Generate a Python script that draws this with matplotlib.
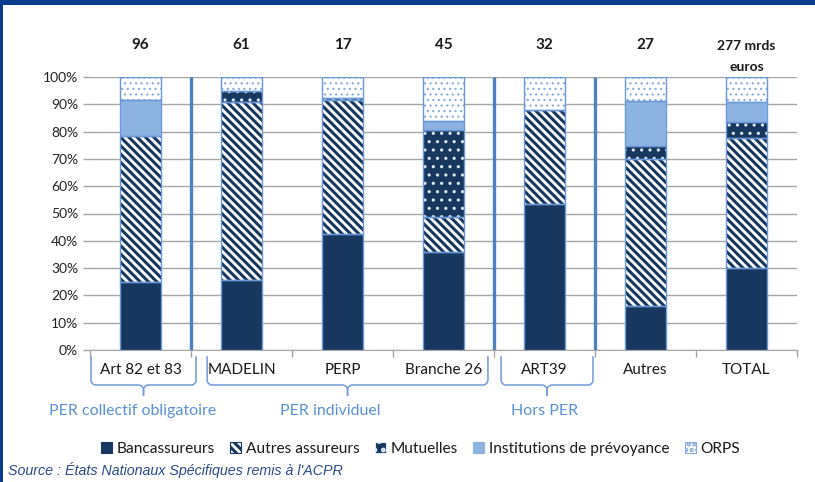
import numpy as np
import matplotlib
matplotlib.use("Agg")
import matplotlib.pyplot as plt
from matplotlib.patches import Patch, Rectangle
from matplotlib.lines import Line2D
import matplotlib.transforms as mtransforms

# Données (parts en %)
categories = ["Art 82 et 83", "MADELIN", "PERP", "Branche 26", "ART39", "Autres", "TOTAL"]
encours = ["96", "61", "17", "45", "32", "27", "277 mrds\neuros"]
bancassureurs = [25.0, 25.5, 42.6, 35.8, 53.3, 16.0, 30.2]
autres_assureurs = [53.4, 65.5, 49.0, 13.0, 34.6, 53.8, 47.6]
mutuelles = [0.0, 4.0, 0.7, 31.7, 0.0, 4.9, 5.8]
institutions = [13.3, 0.0, 0.0, 3.2, 0.0, 16.4, 7.1]
orps = [8.3, 5.0, 7.7, 16.3, 12.1, 8.9, 9.3]
groupes = ["PER collectif obligatoire", "PER individuel", "Hors PER"]
groupes_gauche = [-0.49, 0.66, 3.57]
groupes_droite = [0.55, 3.44, 4.48]
groupes_texte_x = [-0.08, 1.88, 4.0]
separateurs = [0.5, 3.5, 4.5]

NAVY = "#17375e"
LIGHT = "#8db3e2"
EDGE = "#6a9ad8"
SEP = "#4f81bd"
GROUP_COL = "#5a90d8"
BRACE = "#6f9bd8"

plt.rcParams["font.family"] = ["Lato", "DejaVu Sans"]
plt.rcParams["hatch.linewidth"] = 2.2

fig = plt.figure(figsize=(8.15, 4.82), dpi=100)
ax = fig.add_axes([90 / 815, 1 - 350 / 482, 707 / 815, 273 / 482])

x = np.arange(len(categories))
w = 0.4

series = [
    ("Bancassureurs", bancassureurs, dict(facecolor=NAVY, edgecolor=NAVY, hatch=None, hlw=2.2)),
    ("Autres assureurs", autres_assureurs, dict(facecolor="white", edgecolor=NAVY, hatch="\\\\\\\\", hlw=2.2)),
    ("Mutuelles", mutuelles, dict(facecolor=NAVY, edgecolor="#dfe8f5", hatch="..", hlw=1.1)),
    ("Institutions de prévoyance", institutions, dict(facecolor=LIGHT, edgecolor=LIGHT, hatch=None, hlw=2.2)),
    ("ORPS", orps, dict(facecolor="white", edgecolor="#86a9dc", hatch="...", hlw=0.8)),
]


def hatch_lw(artist, lw):
    if hasattr(artist, "set_hatch_linewidth"):
        artist.set_hatch_linewidth(lw)


bottom = np.zeros(len(categories))
for name, vals, st in series:
    vals = np.array(vals)
    for i in range(len(categories)):
        if vals[i] <= 0:
            continue
        bars = ax.bar(x[i], vals[i], w, bottom=bottom[i], facecolor=st["facecolor"],
                      edgecolor=st["edgecolor"], hatch=st["hatch"], linewidth=0, zorder=3)
        for b in bars:
            hatch_lw(b, st["hlw"])
        ax.bar(x[i], vals[i], w, bottom=bottom[i], fill=False, edgecolor=EDGE,
               linewidth=1.0, zorder=4)
    bottom += vals

for s in separateurs:
    ax.plot([s, s], [0, 100], color=SEP, lw=2.4, zorder=5, solid_capstyle="butt")

ax.set_xlim(-0.5, len(categories) - 0.5)
ax.set_ylim(0, 100)
ax.set_yticks(np.arange(0, 101, 10))
ax.set_yticklabels([f"{v}%" for v in range(0, 101, 10)], fontsize=10, color="#222222")
ax.yaxis.grid(True, color="#a6a6a6", lw=1.0, zorder=0)
ax.set_xticks(np.arange(-0.5, len(categories), 1))
ax.set_xticklabels([])
ax.tick_params(axis="both", length=5, color="#a6a6a6", width=1)
for sp in ["top", "right", "left"]:
    ax.spines[sp].set_visible(False)
ax.spines["bottom"].set_color("#a6a6a6")

trans = mtransforms.blended_transform_factory(ax.transData, ax.transAxes)
px = 1 / 273  # un pixel en fraction d'axe (vertical)

for i, lab in enumerate(categories):
    ax.text(x[i], -20 * px, lab, transform=trans, ha="center", va="center",
            fontsize=11, color="#1a1a1a")

for i, lab in enumerate(encours):
    if "\n" in lab:
        l1, l2 = lab.split("\n")
        ax.text(x[i], 1 + 31 * px, l1, transform=trans, ha="center", va="center",
                fontsize=10, fontweight="bold", color="#1a1a1a")
        ax.text(x[i], 1 + 10 * px, l2, transform=trans, ha="center", va="center",
                fontsize=10, fontweight="bold", color="#1a1a1a")
    else:
        ax.text(x[i], 1 + 32 * px, lab, transform=trans, ha="center", va="center",
                fontsize=11, fontweight="bold", color="#1a1a1a")


# accolades sous les groupes, tracées en pixels (origine en bas à gauche)
def quart(cx, cy, r, a0, a1):
    t = np.linspace(np.radians(a0), np.radians(a1), 8)
    return cx + r * np.cos(t), cy + r * np.sin(t)


def accolade(d0, d1, ytop, ybot, ytip, r=5):
    x0 = 90 + 101 * (d0 + 0.5)
    x1 = 90 + 101 * (d1 + 0.5)
    xm = (x0 + x1) / 2
    yt, yb, yp = 482 - ytop, 482 - ybot, 482 - ytip
    for xa, sgn in [(x0, 1), (x1, -1)]:
        ax1, ay1 = quart(xa + sgn * r, yb + r, r, 180 if sgn > 0 else 0, 270 if sgn > 0 else -90)
        ax2, ay2 = quart(xm - sgn * r, yb - r, r, 90, 0 if sgn > 0 else 180)
        xs = np.concatenate([[xa], ax1, ax2, [xm]])
        ys = np.concatenate([[yt], ay1, ay2, [yp]])
        fig.add_artist(Line2D(xs, ys, transform=mtransforms.IdentityTransform(),
                              color=BRACE, lw=1.1, zorder=6))


for g, d0, d1, xt in zip(groupes, groupes_gauche, groupes_droite, groupes_texte_x):
    accolade(d0, d1, 357, 385, 395)
    ax.text(xt, -61 * px, g, transform=trans, ha="center", va="center",
            fontsize=11.5, color=GROUP_COL)

handles = []
for name, _, st in series:
    h = Patch(facecolor=st["facecolor"], edgecolor=st["edgecolor"], hatch=st["hatch"],
              linewidth=0.8, label=name)
    hatch_lw(h, min(st["hlw"], 1.2))
    handles.append(h)
leg = fig.legend(handles=handles, loc="center", bbox_to_anchor=(0.516, 1 - 449 / 482),
                 ncol=5, frameon=False, fontsize=11.2, handlelength=0.7, handleheight=0.7,
                 handletextpad=0.3, columnspacing=1.0)
for t in leg.get_texts():
    t.set_color("#1a1a1a")

fig.text(8 / 815, 1 - 470 / 482, "Source : États Nationaux Spécifiques remis à l'ACPR",
         fontsize=10.3, style="italic", family=["Liberation Sans", "DejaVu Sans"],
         color="#2a4a8c", va="center")

# cadre bleu en haut et à gauche
fig.patches.append(Rectangle((0, 1 - 5 / 482), 1, 5 / 482, transform=fig.transFigure,
                             facecolor="#0b3c8c", edgecolor="none"))
fig.patches.append(Rectangle((0, 0), 2.5 / 815, 1, transform=fig.transFigure,
                             facecolor="#0b3c8c", edgecolor="none"))

fig.savefig("out.png", dpi=100)
